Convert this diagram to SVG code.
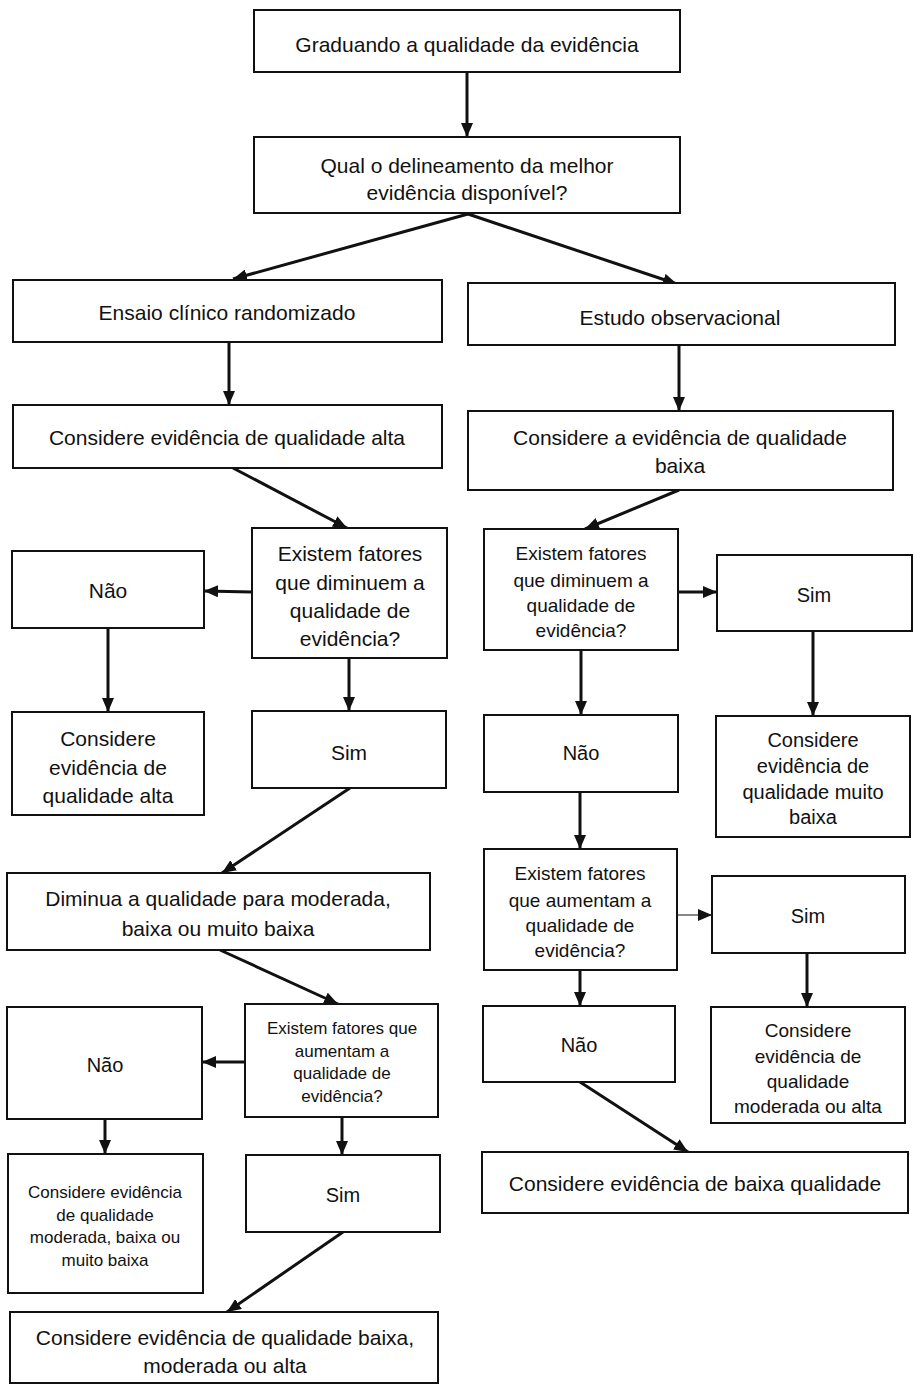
<svg xmlns="http://www.w3.org/2000/svg" width="913" height="1394" viewBox="0 0 913 1394">
<style>
.box{fill:#fff;stroke:#111;stroke-width:2}
text{font-family:"Liberation Sans",Arial,sans-serif;fill:#111;text-anchor:middle;dominant-baseline:central}
.f21{font-size:21px}.f20{font-size:20px}.f19{font-size:19px}.f17{font-size:17px}
.c line{stroke:#111;stroke-width:3;marker-end:url(#ah)}
.c line.thin{stroke-width:1.2}
</style>
<defs>
<marker id="ah" markerUnits="userSpaceOnUse" markerWidth="14" markerHeight="12" refX="14" refY="6" orient="auto" viewBox="0 0 14 12">
<path d="M0,0 L14,6 L0,12 z" fill="#111"/>
</marker>
</defs>
<rect width="913" height="1394" fill="#fff"/>
<g class="c" id="connectors">
<line x1="467" y1="72" x2="467" y2="137"/>
<line x1="468" y1="214" x2="233" y2="279"/>
<line x1="468" y1="214" x2="677" y2="284"/>
<line x1="229" y1="342" x2="229" y2="405"/>
<line x1="679" y1="345" x2="679" y2="411"/>
<line x1="233" y1="468" x2="347" y2="528"/>
<line x1="252" y1="592" x2="204" y2="591"/>
<line x1="349" y1="658" x2="349" y2="711"/>
<line x1="679" y1="490" x2="585" y2="529"/>
<line x1="678" y1="592" x2="717" y2="592"/>
<line x1="581" y1="650" x2="581" y2="715"/>
<line x1="813" y1="631" x2="813" y2="716"/>
<line x1="108" y1="628" x2="108" y2="712"/>
<line x1="350" y1="788" x2="222" y2="873"/>
<line x1="580" y1="792" x2="580" y2="849"/>
<line class="thin" x1="677" y1="915" x2="712" y2="915"/>
<line x1="807" y1="953" x2="807" y2="1007"/>
<line x1="220" y1="950" x2="338" y2="1004"/>
<line x1="245" y1="1062" x2="202" y2="1062"/>
<line x1="342" y1="1117" x2="342" y2="1155"/>
<line x1="105" y1="1119" x2="105" y2="1154"/>
<line x1="343" y1="1232" x2="227" y2="1312"/>
<line x1="580" y1="970" x2="580" y2="1006"/>
<line x1="580" y1="1082" x2="688" y2="1152"/>
</g>
<g id="nA"><rect class="box" x="254" y="10" width="426" height="62"/><text class="f21" x="467" y="44">Graduando a qualidade da evidência</text></g>
<g id="nB"><rect class="box" x="254" y="137" width="426" height="76"/><text class="f21" x="467" y="165">Qual o delineamento da melhor</text><text class="f21" x="467" y="192">evidência disponível?</text></g>
<g id="nC"><rect class="box" x="13" y="280" width="429" height="62"/><text class="f21" x="227" y="312">Ensaio clínico randomizado</text></g>
<g id="nD"><rect class="box" x="468" y="283" width="427" height="62"/><text class="f21" x="680" y="317">Estudo observacional</text></g>
<g id="nE"><rect class="box" x="13" y="405" width="429" height="63"/><text class="f21" x="227" y="437">Considere evidência de qualidade alta</text></g>
<g id="nF"><rect class="box" x="468" y="411" width="425" height="79"/><text class="f21" x="680" y="437">Considere a evidência de qualidade</text><text class="f21" x="680" y="465">baixa</text></g>
<g id="nG"><rect class="box" x="252" y="528" width="195" height="130"/><text class="f21" x="350" y="553">Existem fatores</text><text class="f21" x="350" y="582">que diminuem a</text><text class="f21" x="350" y="610">qualidade de</text><text class="f21" x="350" y="638">evidência?</text></g>
<g id="nH"><rect class="box" x="12" y="551" width="192" height="77"/><text class="f21" x="108" y="590">Não</text></g>
<g id="nI"><rect class="box" x="484" y="529" width="194" height="121"/><text class="f19" x="581" y="553">Existem fatores</text><text class="f19" x="581" y="580">que diminuem a</text><text class="f19" x="581" y="605">qualidade de</text><text class="f19" x="581" y="630">evidência?</text></g>
<g id="nJ"><rect class="box" x="717" y="555" width="195" height="76"/><text class="f20" x="814" y="595">Sim</text></g>
<g id="nK"><rect class="box" x="12" y="712" width="192" height="103"/><text class="f21" x="108" y="738">Considere</text><text class="f21" x="108" y="767">evidência de</text><text class="f21" x="108" y="795">qualidade alta</text></g>
<g id="nL"><rect class="box" x="252" y="711" width="194" height="77"/><text class="f21" x="349" y="752">Sim</text></g>
<g id="nM"><rect class="box" x="484" y="715" width="194" height="77"/><text class="f20" x="581" y="753">Não</text></g>
<g id="nN"><rect class="box" x="716" y="716" width="194" height="121"/><text class="f20" x="813" y="740">Considere</text><text class="f20" x="813" y="766">evidência de</text><text class="f20" x="813" y="792">qualidade muito</text><text class="f20" x="813" y="817">baixa</text></g>
<g id="nO"><rect class="box" x="7" y="873" width="423" height="77"/><text class="f21" x="218" y="898">Diminua a qualidade para moderada,</text><text class="f21" x="218" y="928">baixa ou muito baixa</text></g>
<g id="nP"><rect class="box" x="484" y="849" width="193" height="121"/><text class="f19" x="580" y="873">Existem fatores</text><text class="f19" x="580" y="900">que aumentam a</text><text class="f19" x="580" y="925">qualidade de</text><text class="f19" x="580" y="950">evidência?</text></g>
<g id="nQ"><rect class="box" x="712" y="876" width="193" height="77"/><text class="f20" x="808" y="916">Sim</text></g>
<g id="nR"><rect class="box" x="245" y="1004" width="193" height="113"/><text class="f17" x="342" y="1028">Existem fatores que</text><text class="f17" x="342" y="1051">aumentam a</text><text class="f17" x="342" y="1073">qualidade de</text><text class="f17" x="342" y="1096">evidência?</text></g>
<g id="nS"><rect class="box" x="7" y="1007" width="195" height="112"/><text class="f20" x="105" y="1065">Não</text></g>
<g id="nT"><rect class="box" x="8" y="1154" width="195" height="139"/><text class="f17" x="105" y="1192">Considere evidência</text><text class="f17" x="105" y="1215">de qualidade</text><text class="f17" x="105" y="1237">moderada, baixa ou</text><text class="f17" x="105" y="1260">muito baixa</text></g>
<g id="nU"><rect class="box" x="246" y="1155" width="194" height="77"/><text class="f20" x="343" y="1195">Sim</text></g>
<g id="nV"><rect class="box" x="10" y="1312" width="428" height="71"/><text class="f21" x="225" y="1337">Considere evidência de qualidade baixa,</text><text class="f21" x="225" y="1365">moderada ou alta</text></g>
<g id="nW"><rect class="box" x="711" y="1007" width="194" height="116"/><text class="f19" x="808" y="1030">Considere</text><text class="f19" x="808" y="1056">evidência de</text><text class="f19" x="808" y="1081">qualidade</text><text class="f19" x="808" y="1106">moderada ou alta</text></g>
<g id="nX"><rect class="box" x="483" y="1006" width="192" height="76"/><text class="f20" x="579" y="1045">Não</text></g>
<g id="nY"><rect class="box" x="482" y="1152" width="426" height="61"/><text class="f21" x="695" y="1183">Considere evidência de baixa qualidade</text></g>
</svg>
